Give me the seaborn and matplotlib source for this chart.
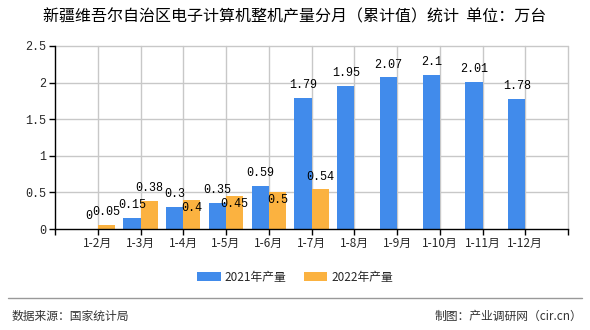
import matplotlib
matplotlib.use("Agg")
import matplotlib.pyplot as plt
import seaborn as sns
import pandas as pd
import numpy as np
from matplotlib.patches import Patch
from matplotlib.lines import Line2D

categories = ["1-2月", "1-3月", "1-4月", "1-5月", "1-6月", "1-7月",
              "1-8月", "1-9月", "1-10月", "1-11月", "1-12月"]
values_2021 = [0, 0.15, 0.3, 0.35, 0.59, 1.79, 1.95, 2.07, 2.1, 2.01, 1.78]
values_2022 = [0.05, 0.38, 0.4, 0.45, 0.5, 0.54, None, None, None, None, None]
series_names = ["2021年产量", "2022年产量"]
y_ticks = [0, 0.5, 1, 1.5, 2, 2.5]
y_tick_labels = ["0", "0.5", "1", "1.5", "2", "2.5"]
title = "新疆维吾尔自治区电子计算机整机产量分月（累计值）统计  单位：万台"
source_text = "数据来源：国家统计局"
credit_text = "制图：产业调研网（cir.cn）"

sns.set_theme(style="white")
plt.rcParams['font.family'] = ['Noto Sans CJK SC', 'DejaVu Sans']
mono = ['Liberation Mono', 'DejaVu Sans Mono']

blue = "#418BEB"
orange = "#FBB240"
grid_color = "#c8c8c8"

df = pd.DataFrame({
    "cat": categories * 2,
    "val": values_2021 + values_2022,
    "series": [series_names[0]] * len(categories) + [series_names[1]] * len(categories),
})
df["val"] = df["val"].astype(float)

fig = plt.figure(figsize=(5.9, 3.3), dpi=100)
fig.patch.set_facecolor("white")
ax = fig.add_axes([55/590, (330-229)/330, (568-55)/590, (229-46)/330])
ax.patch.set_visible(False)

n = len(categories)

sns.barplot(data=df, x="cat", y="val", hue="series", order=categories,
            hue_order=series_names, palette=[blue, orange], width=0.8,
            saturation=1, ax=ax, legend=False, zorder=3, linewidth=0)

ax.set_xlim(-1, n)
ax.set_ylim(0, 2.5)
ax.set_yticks(y_ticks)
ax.set_yticklabels(y_tick_labels, fontsize=8.5, family=mono)
ax.set_xticks(range(n))
ax.set_xticklabels(categories, fontsize=8.5)
ax.set_xlabel("")
ax.set_ylabel("")

# grid lines, drawn at figure level beneath the (transparent) axes
for y in y_ticks[1:]:
    fig.add_artist(Line2D([-1, n], [y, y], transform=ax.transData,
                          color=grid_color, lw=1, zorder=-1))
for x in range(n + 1):
    fig.add_artist(Line2D([x, x], [0, 2.5], transform=ax.transData,
                          color=grid_color, lw=1, zorder=-1))

for s in ["top", "right"]:
    ax.spines[s].set_visible(False)
for s in ["left", "bottom"]:
    ax.spines[s].set_visible(True)
    ax.spines[s].set_color("black")
    ax.spines[s].set_linewidth(1)
    ax.spines[s].set_zorder(5)
ax.tick_params(axis="both", which="both", length=4, width=1, color="black",
               direction="out", bottom=True, left=True, pad=2)
ax.set_xticks(list(range(-1, n + 1)), minor=True)
ax.tick_params(axis="x", which="minor", length=4, width=1, color="black")

def fmt(v):
    return f"{v:g}"

# value labels
for i, (a, b) in enumerate(zip(values_2021, values_2022)):
    ax.annotate(fmt(a), (i - 0.2, a), xytext=(0, 5), textcoords="offset points",
                ha="center", va="bottom", fontsize=8.5, color="black", family=mono,
                zorder=6)
    if b is not None:
        dy = 5
        if abs(b - a) < 0.2 and a > 0:
            dy = -10
        ax.annotate(fmt(b), (i + 0.2, b), xytext=(0, dy), textcoords="offset points",
                    ha="center", va="bottom", fontsize=8.5, color="black", family=mono,
                    zorder=6)

# title
fig.text(0.5, 1 - 17/330, title, ha="center", va="center", fontsize=11.5, color="black")

# legend
handles = [Patch(facecolor=blue, edgecolor="none"), Patch(facecolor=orange, edgecolor="none")]
fig.legend(handles, series_names, loc="center", bbox_to_anchor=(0.5, 1 - 277/330),
           ncol=2, frameon=False, fontsize=8.5, handlelength=2.0, handleheight=0.9,
           columnspacing=1.5, handletextpad=0.3)

# footer
fig.add_artist(Line2D([8/590, 582/590], [1 - 298/330] * 2, color="#999999", lw=1))
fig.text(12/590, 1 - 316/330, source_text, ha="left", va="center", fontsize=8.5, color="#333333")
fig.text(582/590, 1 - 316/330, credit_text, ha="right", va="center", fontsize=8.5, color="#333333")

fig.savefig("out.png", dpi=100, facecolor="white")
